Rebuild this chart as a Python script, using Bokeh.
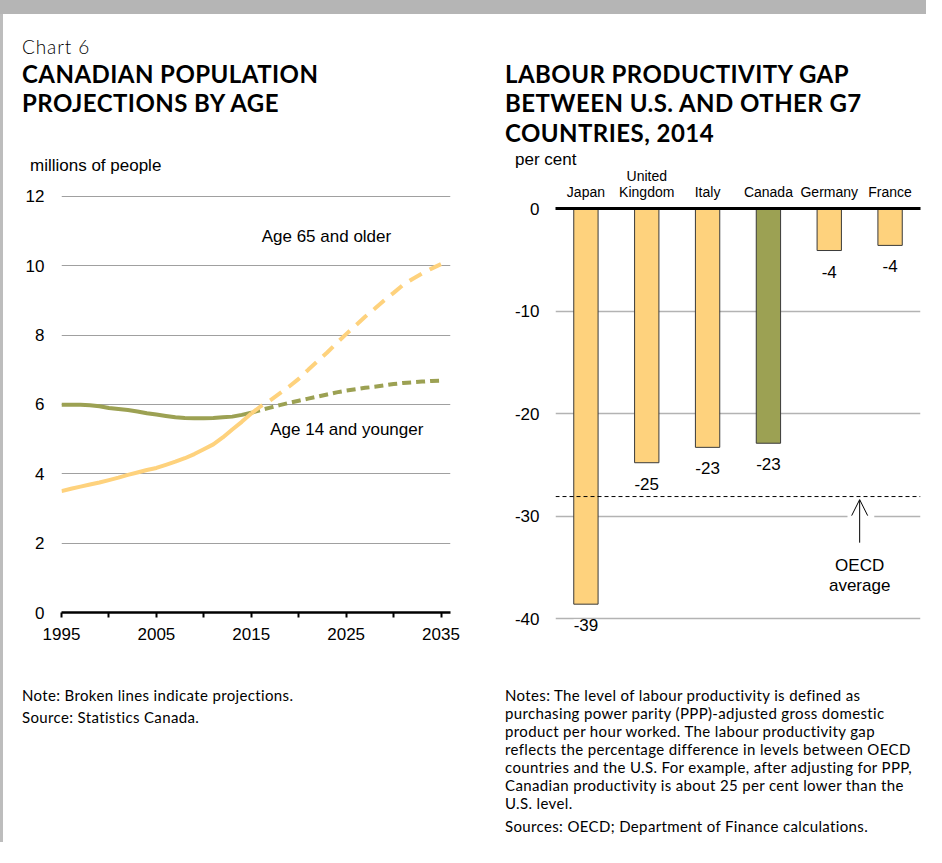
from bokeh.plotting import figure
from bokeh.models import (Label, LabelSet, ColumnDataSource, FixedTicker, Span, Arrow,
                          OpenHead, BoxAnnotation, Div, Range1d, FactorRange, CategoricalAxis,
                          CustomJSTickFormatter)
from bokeh.layouts import column, row
from bokeh.core.properties import value
from bokeh.embed import file_html
from bokeh.resources import INLINE

# ---------------- data ----------------
years_hist = [1995, 1996, 1997, 1998, 1999, 2000, 2001, 2002, 2003, 2004, 2005,
              2006, 2007, 2008, 2009, 2010, 2011, 2012, 2013, 2014, 2015]
years_proj = [2015, 2016, 2017, 2018, 2019, 2020, 2021, 2022, 2023, 2024, 2025,
              2026, 2027, 2028, 2029, 2030, 2031, 2032, 2033, 2034, 2035]
age65_hist = [3.50, 3.57, 3.63, 3.69, 3.75, 3.82, 3.89, 3.97, 4.04, 4.11, 4.17,
              4.26, 4.35, 4.45, 4.57, 4.71, 4.85, 5.05, 5.28, 5.50, 5.74]
age65_proj = [5.74, 5.95, 6.12, 6.32, 6.52, 6.74, 7.00, 7.25, 7.50, 7.77, 8.03,
              8.28, 8.53, 8.76, 9.00, 9.22, 9.45, 9.62, 9.78, 9.92, 10.05]
age14_hist = [5.99, 5.99, 5.99, 5.98, 5.95, 5.90, 5.87, 5.84, 5.80, 5.75, 5.71,
              5.67, 5.63, 5.61, 5.60, 5.60, 5.61, 5.63, 5.65, 5.70, 5.76]
age14_proj = [5.76, 5.84, 5.91, 5.98, 6.05, 6.11, 6.17, 6.23, 6.29, 6.35, 6.40,
              6.44, 6.48, 6.51, 6.55, 6.59, 6.62, 6.64, 6.66, 6.68, 6.69]
x_major_ticks = [1995, 2005, 2015, 2025, 2035]
x_minor_ticks = [2000, 2010, 2020, 2030]
y1_ticks = [0, 2, 4, 6, 8, 10, 12]

countries = ["Japan", "United Kingdom", "Italy", "Canada", "Germany", "France"]
label_line1 = ["", "United", "", "", "", ""]
label_line2 = ["Japan", "Kingdom", "Italy", "Canada", "Germany", "France"]
gap = [-38.6, -24.8, -23.3, -22.9, -4.1, -3.6]
oecd_avg = -28.1
y2_ticks = [0, -10, -20, -30, -40]

YELLOW = "#FED27D"
GREEN = "#9CA153"
TICKFONT = "Liberation Sans"
HFONT = "Lato"

# ---------------- left chart ----------------
p1 = figure(frame_width=389, frame_height=420, x_range=Range1d(1995, 2036),
            y_range=Range1d(0, 12.115), output_backend="svg", toolbar_location=None,
            min_border_left=58, min_border_right=22, min_border_top=10,
            min_border_bottom=40)
p1.xgrid.grid_line_color = None
p1.yaxis.ticker = FixedTicker(ticks=y1_ticks)
p1.ygrid.grid_line_color = "#A0A0A0"
p1.ygrid.grid_line_width = 1.2
p1.yaxis.axis_line_color = None
p1.yaxis.major_tick_line_color = None
p1.yaxis.minor_tick_line_color = None
p1.yaxis.major_label_standoff = 11
p1.yaxis.major_label_text_font = TICKFONT
p1.yaxis.major_label_text_font_size = "17px"
p1.yaxis.major_label_text_color = "black"

p1.xaxis.ticker = FixedTicker(ticks=x_major_ticks, minor_ticks=x_minor_ticks)
p1.xaxis.axis_line_width = 2.5
p1.xaxis.axis_line_color = "black"
p1.xaxis.major_tick_out = 5
p1.xaxis.major_tick_in = 0
p1.xaxis.minor_tick_out = 5
p1.xaxis.minor_tick_in = 0
p1.xaxis.major_tick_line_width = 2
p1.xaxis.minor_tick_line_width = 2
p1.xaxis.major_tick_line_color = "black"
p1.xaxis.minor_tick_line_color = "black"
p1.xaxis.major_label_standoff = 10
p1.xaxis.major_label_text_font = TICKFONT
p1.xaxis.major_label_text_font_size = "17px"
p1.xaxis.major_label_text_color = "black"

p1.line(years_hist, age14_hist, line_color=GREEN, line_width=4)
p1.line(years_proj, age14_proj, line_color=GREEN, line_width=4, line_dash="9 5")
p1.line(years_hist, age65_hist, line_color=YELLOW, line_width=4)
p1.line(years_proj, age65_proj, line_color=YELLOW, line_width=4, line_dash="14 9")

p1.add_layout(Label(x=2016.1, y=10.85, text="Age 65 and older", text_font=TICKFONT,
                    text_font_size="17px", text_baseline="middle", text_align="left",
                    text_color="black"))
p1.add_layout(Label(x=2017.0, y=5.28, text="Age 14 and younger", text_font=TICKFONT,
                    text_font_size="17px", text_baseline="middle", text_align="left",
                    text_color="black"))

# ---------------- right chart ----------------
p2 = figure(x_range=FactorRange(*countries), y_range=Range1d(-41.46, 0),
            frame_width=365, frame_height=425, x_axis_location="above",
            output_backend="svg", toolbar_location=None,
            min_border_left=83, min_border_right=6, min_border_top=52,
            min_border_bottom=40)
p2.xgrid.grid_line_color = None
p2.yaxis.ticker = FixedTicker(ticks=y2_ticks)
p2.yaxis.major_label_overrides = {t: str(t) for t in y2_ticks}
p2.ygrid.grid_line_color = "#B3B3B3"
p2.ygrid.grid_line_width = 1.6
p2.yaxis.axis_line_color = None
p2.yaxis.major_tick_line_color = None
p2.yaxis.minor_tick_line_color = None
p2.yaxis.major_label_standoff = 10
p2.yaxis.major_label_text_font = TICKFONT
p2.yaxis.major_label_text_font_size = "17px"
p2.yaxis.major_label_text_color = "black"

fmt_code = "const i = names.indexOf(tick); return i >= 0 ? labels[i] : tick;"

ax1 = p2.xaxis[0]
ax1.axis_line_width = 3
ax1.axis_line_color = "black"
ax1.major_tick_line_color = None
ax1.minor_tick_line_color = None
ax1.major_tick_out = 0
ax1.major_tick_in = 0
ax1.major_label_standoff = 9
ax1.major_label_text_font = TICKFONT
ax1.major_label_text_font_size = "14px"
ax1.major_label_text_color = "black"
ax1.formatter = CustomJSTickFormatter(args=dict(names=countries, labels=label_line2),
                                      code=fmt_code)

ax2 = CategoricalAxis(axis_line_color=None, major_tick_line_color=None,
                      minor_tick_line_color=None, major_tick_out=0, major_tick_in=0,
                      major_label_standoff=-3,
                      major_label_text_font=TICKFONT, major_label_text_font_size="14px",
                      major_label_text_color="black",
                      formatter=CustomJSTickFormatter(
                          args=dict(names=countries, labels=label_line1), code=fmt_code))
p2.add_layout(ax2, "above")

src = ColumnDataSource(dict(
    country=countries, gap=gap,
    label=[f"{v:.0f}" for v in gap],
    color=[GREEN if c == "Canada" else YELLOW for c in countries],
))
p2.vbar(x="country", top=0, bottom="gap", width=0.4, fill_color="color",
        line_color="#3a3a3a", line_width=1, source=src)

p2.add_layout(LabelSet(x="country", y="gap", text="label", source=src,
                       text_align="center", text_baseline="middle", y_offset=-21,
                       text_font=value(TICKFONT), text_font_size=value("17px"),
                       background_fill_color="white", text_color="black"))

p2.add_layout(Span(location=oecd_avg, dimension="width", line_color="black",
                   line_width=1, line_dash="4 3"))
p2.add_layout(BoxAnnotation(left=4.8, right=5.24, bottom=-30.5, top=-29.5,
                            fill_color="white", fill_alpha=1, line_color=None))
p2.add_layout(Arrow(end=OpenHead(size=16, line_width=1, line_color="black"),
                    x_start=5.0, y_start=-32.6, x_end=5.0, y_end=oecd_avg - 0.3,
                    line_width=1, line_color="black"))
p2.add_layout(Label(x=5.0, y=-34.8, text="OECD", text_font=TICKFONT, text_font_size="17px",
                    text_align="center", text_baseline="middle", text_color="black"))
p2.add_layout(Label(x=5.0, y=-36.8, text="average", text_font=TICKFONT, text_font_size="17px",
                    text_align="center", text_baseline="middle", text_color="black"))

for p in (p1, p2):
    p.outline_line_color = None
    p.background_fill_color = "white"
    p.border_fill_color = None


# ---------------- text blocks ----------------
def line(text, left, top, size, font, weight="normal", lh=20, ls=0):
    return (f'<div style="position:absolute;left:{left}px;top:{top}px;'
            f"font-family:'{font}';font-size:{size}px;font-weight:{weight};"
            f'letter-spacing:{ls}px;line-height:{lh}px;white-space:nowrap;color:#000;">'
            f'{text}</div>')


def block(w, h, parts):
    html = (f'<div style="position:relative;width:{w}px;height:{h}px;">'
            + "".join(parts) + "</div>")
    return Div(text=html, width=w, height=h, margin=(0, 0, 0, 0))


TS = 24      # title size
TLS = 0.45   # title letter spacing
NS = 15      # note size
NLS = 0.36   # note letter spacing

# column 1 starts at page x 11, y 22
t1 = block(469, 168, [
    line("Chart 6", 19, 21.5, 19, HFONT, "300", lh=22, ls=0.9),
    line("CANADIAN POPULATION", 19, 45.8, TS, HFONT, "bold", lh=28, ls=TLS),
    line("PROJECTIONS BY AGE", 19, 75.4, TS, HFONT, "bold", lh=28, ls=TLS),
    line("millions of people", 27, 141.5, 17, TICKFONT, lh=20),
])
n1 = block(469, 190, [
    line("Note: Broken lines indicate projections.", 19, 34, NS, HFONT, lh=18, ls=NLS),
    line("Source: Statistics Canada.", 19, 56, NS, HFONT, lh=18, ls=NLS),
])

# column 2 starts at page x 480, y 22
t2 = block(454, 142, [
    line("LABOUR PRODUCTIVITY GAP", 33, 45.8, TS, HFONT, "bold", lh=28, ls=TLS),
    line("BETWEEN U.S. AND OTHER G7", 33, 75.4, TS, HFONT, "bold", lh=28, ls=TLS),
    line("COUNTRIES, 2014", 33, 105, TS, HFONT, "bold", lh=28, ls=TLS),
    line("per cent", 43, 135.5, 17, TICKFONT, lh=20),
])
notes = [
    "Notes: The level of labour productivity is defined as",
    "purchasing power parity (PPP)-adjusted gross domestic",
    "product per hour worked. The labour productivity gap",
    "reflects the percentage difference in levels between OECD",
    "countries and the U.S. For example, after adjusting for PPP,",
    "Canadian productivity is about 25 per cent lower than the",
    "U.S. level.",
]
n2_parts = [line(t, 33, 13 + 18 * i, NS, HFONT, lh=18, ls=NLS) for i, t in enumerate(notes)]
n2_parts.append(line("Sources: OECD; Department of Finance calculations.", 33, 144, NS,
                     HFONT, lh=18, ls=NLS))
n2 = block(454, 169, n2_parts)

top_bar = Div(text="", width=926, height=14, margin=(0, 0, 0, 0),
              styles={"background-color": "#B5B5B5"})
left_bar = Div(text="", width=3, height=828, margin=(0, 0, 0, 0),
               styles={"background-color": "#BDBDBD"})
col1 = column(t1, p1, n1, spacing=0)
col2 = column(t2, p2, n2, spacing=0)
layout = column(top_bar, row(left_bar, col1, col2, spacing=0), spacing=0)

open("out.html", "w").write(file_html(layout, INLINE))
